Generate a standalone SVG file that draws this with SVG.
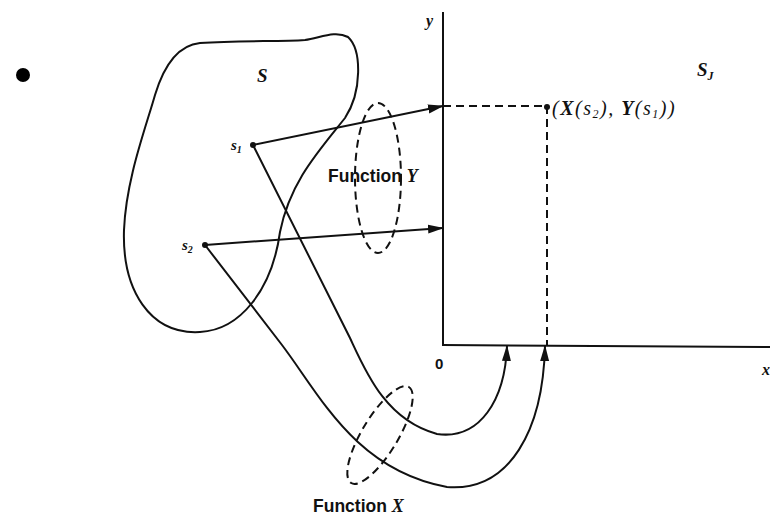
<svg xmlns="http://www.w3.org/2000/svg" width="770" height="516" viewBox="0 0 770 516">
<style>
.ln{fill:none;stroke:#111;stroke-width:2}
.ds{fill:none;stroke:#111;stroke-width:2;stroke-dasharray:8,5}
.it{font-family:"Liberation Serif",serif;font-style:italic;fill:#111}
.sn{font-family:"Liberation Sans",sans-serif;fill:#111}
</style>
<defs>
<marker id="ah" markerWidth="16" markerHeight="10" refX="15" refY="5" orient="auto" markerUnits="userSpaceOnUse">
<path d="M0,0.5 L16,5 L0,9.5 Z" fill="#111"/>
</marker>
</defs>
<rect width="770" height="516" fill="#fff"/>
<circle cx="23" cy="75" r="7" fill="#000"/>
<g id="setS">
<path class="ln" d="M200,43 C240,40 280,42 305,40 C320,38 335,30 348,37 C362,50 362,92 345,118 C318,152 290,182 280,232 C272,290 240,330 200,332 C150,335 122,290 124,230 C126,180 145,130 155,95 C165,62 180,45 200,43 Z"/>
<text class="it" x="257" y="82" font-size="19" font-weight="bold">S</text>
</g>
<g id="s1">
<circle cx="253" cy="145" r="3" fill="#111"/>
<text class="it" x="231" y="150" font-size="15" font-weight="bold">s<tspan font-size="10" dy="3">1</tspan></text>
</g>
<g id="s2">
<circle cx="205" cy="245" r="3" fill="#111"/>
<text class="it" x="182" y="250" font-size="15" font-weight="bold">s<tspan font-size="10" dy="3">2</tspan></text>
</g>
<g id="axes">
<line class="ln" x1="443" y1="12" x2="443" y2="346"/>
<line class="ln" x1="442" y1="345" x2="770" y2="347"/>
<text class="it" x="426" y="26" font-size="16" font-weight="bold">y</text>
<text class="sn" x="435" y="369" font-size="15" font-weight="bold">0</text>
<text class="it" x="762" y="375" font-size="16" font-weight="bold">x</text>
<text class="it" x="697" y="76" font-size="19" font-weight="bold">S<tspan font-size="12" dy="4">J</tspan></text>
</g>
<g id="point">
<line class="ds" x1="443" y1="106" x2="547" y2="106"/>
<line class="ds" x1="547" y1="106" x2="547" y2="345"/>
<circle cx="547" cy="107" r="3" fill="#111"/>
<text class="it" x="552" y="115" font-size="20" letter-spacing="1.5">(<tspan font-weight="bold">X</tspan>(s<tspan font-size="12" dy="3">2</tspan><tspan dy="-3">),  </tspan><tspan font-weight="bold">Y</tspan>(s<tspan font-size="12" dy="3">1</tspan><tspan dy="-3">))</tspan></text>
</g>
<g id="funcY">
<ellipse class="ds" cx="378" cy="178" rx="23" ry="75"/>
<text class="sn" x="328" y="182" font-size="17.5" font-weight="bold">Function <tspan class="it" font-size="18">Y</tspan></text>
</g>
<g id="funcX">
<ellipse class="ds" cx="380" cy="435" rx="56" ry="18" transform="rotate(-59 380 435)"/>
<text class="sn" x="313" y="512" font-size="17.5" font-weight="bold">Function <tspan class="it" font-size="18">X</tspan></text>
</g>
<g id="connectors">
<line class="ln" x1="253" y1="145" x2="443" y2="106" marker-end="url(#ah)"/>
<line class="ln" x1="205" y1="245" x2="443" y2="228" marker-end="url(#ah)"/>
<path class="ln" d="M253,145 L350,338 C365,370 385,420 437,434 C480,440 505,400 507,346" marker-end="url(#ah)"/>
<path class="ln" d="M205,245 L282,345 C320,395 355,470 447,487 C510,492 543,430 545,346" marker-end="url(#ah)"/>
</g>
</svg>
